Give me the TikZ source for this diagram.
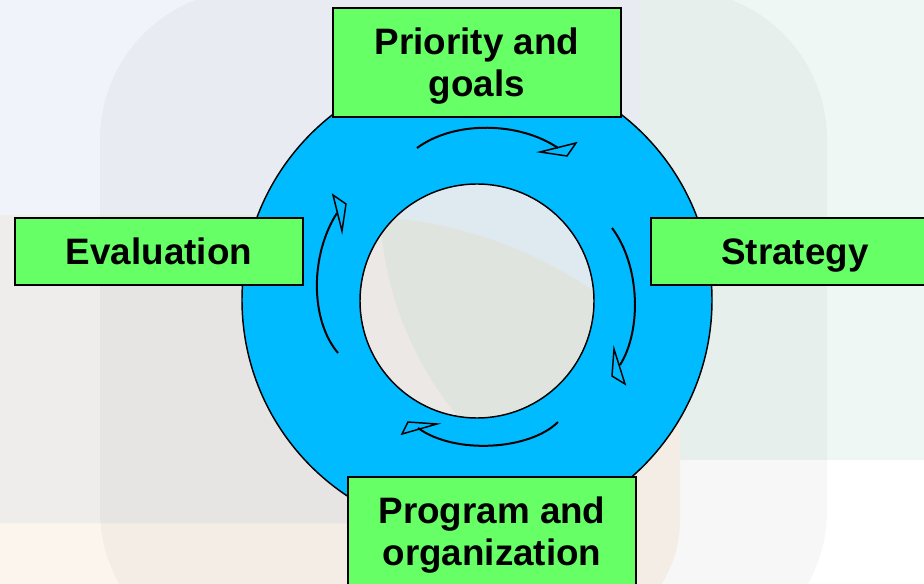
\documentclass[tikz,border=0pt]{standalone}
\usepackage{fontspec}
\setmainfont{Liberation Sans}

\definecolor{ringblue}{HTML}{00BBFF}
\definecolor{boxgreen}{HTML}{66FF66}
\definecolor{bgblue}{HTML}{F0F3FA}
\definecolor{bggreen}{HTML}{EFF7F4}
\definecolor{bgpeach}{HTML}{FCF5EE}
\definecolor{bggrey}{HTML}{EFEDEC}
\definecolor{innerblue}{HTML}{DFEAF0}
\definecolor{innerpink}{HTML}{ECE8E6}
\definecolor{innergreen}{HTML}{E0E4DE}

\tikzset{
  stagebox/.style={draw=black, line width=1.5pt, fill=boxgreen, minimum width=216pt,
    inner sep=0pt, align=center, text depth=0pt,
    font=\bfseries\fontsize{27.6}{31.3}\selectfont},
  oneline/.style={stagebox, minimum height=50.25pt, text height=19.8pt},
  twoline/.style={stagebox, minimum height=81.75pt},
  turn/.style={line width=1.5pt},
  tiphead/.style={line width=1.1pt, line join=miter}
}

\begin{document}
\begin{tikzpicture}[x=0.75pt,y=-0.75pt]
\useasboundingbox (0,0) rectangle (924,584);

%faint background blocks
\fill[white] (0,0) rectangle (924,584);
\fill[bgblue] (0,0) rectangle (640,215);
\fill[bggreen] (640,0) rectangle (924,460);
\fill[bgpeach, rounded corners=90pt] (-200,215) rectangle (680,640);
\fill[bggrey, rounded corners=90pt] (-200,215) rectangle (640,523);
\fill[black, opacity=0.03, rounded corners=112pt] (100,-10) rectangle (827,660);

%inside of the ring
\begin{scope}
  \clip (477,301) circle[radius=87.75pt];
  \fill[innerblue] (350,170) rectangle (610,430);
  \begin{scope}
    \clip (350,650) circle[radius=325.5pt];
    \fill[innerpink] (350,170) rectangle (610,430);
    \fill[innergreen] (720,200) circle[radius=255pt];
  \end{scope}
\end{scope}

%the ring
\fill[ringblue, even odd rule] (477,300) circle[radius=176.25pt] (477,301) circle[radius=87.75pt];
\draw[line width=1.1pt] (477,300) circle[radius=176.25pt];
\draw[line width=1.1pt] (477,301) circle[radius=87.75pt];

%four stages
\node[twoline] (prio) at (477,62.5) {Priority and\\goals};
\node[oneline] (strat) at (795,251.5) {Strategy};
\node[twoline] (prog) at (492,531.5) {Program and\\organization};
\node[oneline] (evalbox) at (159,251.5) {Evaluation};

%turning arrows
\draw[turn] (417,148) .. controls (455,120) and (520,122) .. (558,148);
\draw[tiphead] (540,152) -- (576,143) -- (567,156) -- cycle;
\draw[turn] (612,228) .. controls (640,265) and (642,330) .. (620,365);
\draw[tiphead] (614,349) -- (625,384) -- (612,376) -- cycle;
\draw[turn] (558,422) .. controls (530,450) and (455,455) .. (418,428);
\draw[tiphead] (408,422) -- (437,424) -- (402,434) -- cycle;
\draw[turn] (338,353) .. controls (310,320) and (310,255) .. (337,213);
\draw[tiphead] (333,195) -- (346,204) -- (342,231) -- cycle;
\end{tikzpicture}
\end{document}
